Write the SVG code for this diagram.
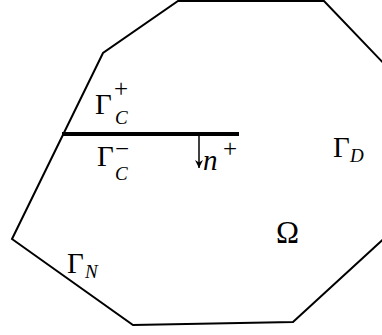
<svg xmlns="http://www.w3.org/2000/svg" width="382" height="335" viewBox="0 0 382 335">
<style>
.up{font-family:"Liberation Serif","Times New Roman",serif;font-size:29px;fill:#000}
.sub{font-family:"Liberation Serif","Times New Roman",serif;font-style:italic;font-size:19px;fill:#000}
.sup{font-family:"Liberation Serif","Times New Roman",serif;font-size:25px;fill:#000}
.it{font-family:"Liberation Serif","Times New Roman",serif;font-style:italic;font-size:29px;fill:#000}
</style>
<defs>
<marker id="ah" viewBox="0 0 10 10" refX="10" refY="5" markerWidth="8" markerHeight="8" markerUnits="userSpaceOnUse" orient="auto">
<path d="M0,0 L10,5 L0,10 L3,5 Z" fill="#000"/>
</marker>
</defs>
<rect width="382" height="335" fill="#fff"/>
<g id="domain">
<polygon points="178,1 324,1 390,70 390,233 293,322 133,325 12,239 103,53" fill="none" stroke="#000" stroke-width="2" stroke-linejoin="miter"/>
</g>
<g id="connectors">
<line x1="62" y1="134" x2="239" y2="134" stroke="#000" stroke-width="4"/>
<line x1="199" y1="134" x2="199" y2="168" stroke="#000" stroke-width="1.5" marker-end="url(#ah)"/>
</g>
<g id="gammaCplus">
<text class="up" x="95" y="114">Γ</text>
<text class="sup" x="114" y="97">+</text>
<text class="sub" x="115" y="124">C</text>
</g>
<g id="gammaCminus">
<text class="up" x="97" y="166">Γ</text>
<text class="sup" x="115" y="157">−</text>
<text class="sub" x="115" y="180">C</text>
</g>
<g id="nplus">
<text class="it" x="203" y="170">n</text>
<text class="sup" x="223" y="157">+</text>
</g>
<g id="gammaD">
<text class="up" x="333" y="157">Γ</text>
<text class="sub" x="350" y="162">D</text>
</g>
<g id="gammaN">
<text class="up" x="67" y="273">Γ</text>
<text class="sub" x="85" y="278">N</text>
</g>
<g id="omega">
<text class="up" x="276" y="243" style="font-size:31px">Ω</text>
</g>
</svg>
